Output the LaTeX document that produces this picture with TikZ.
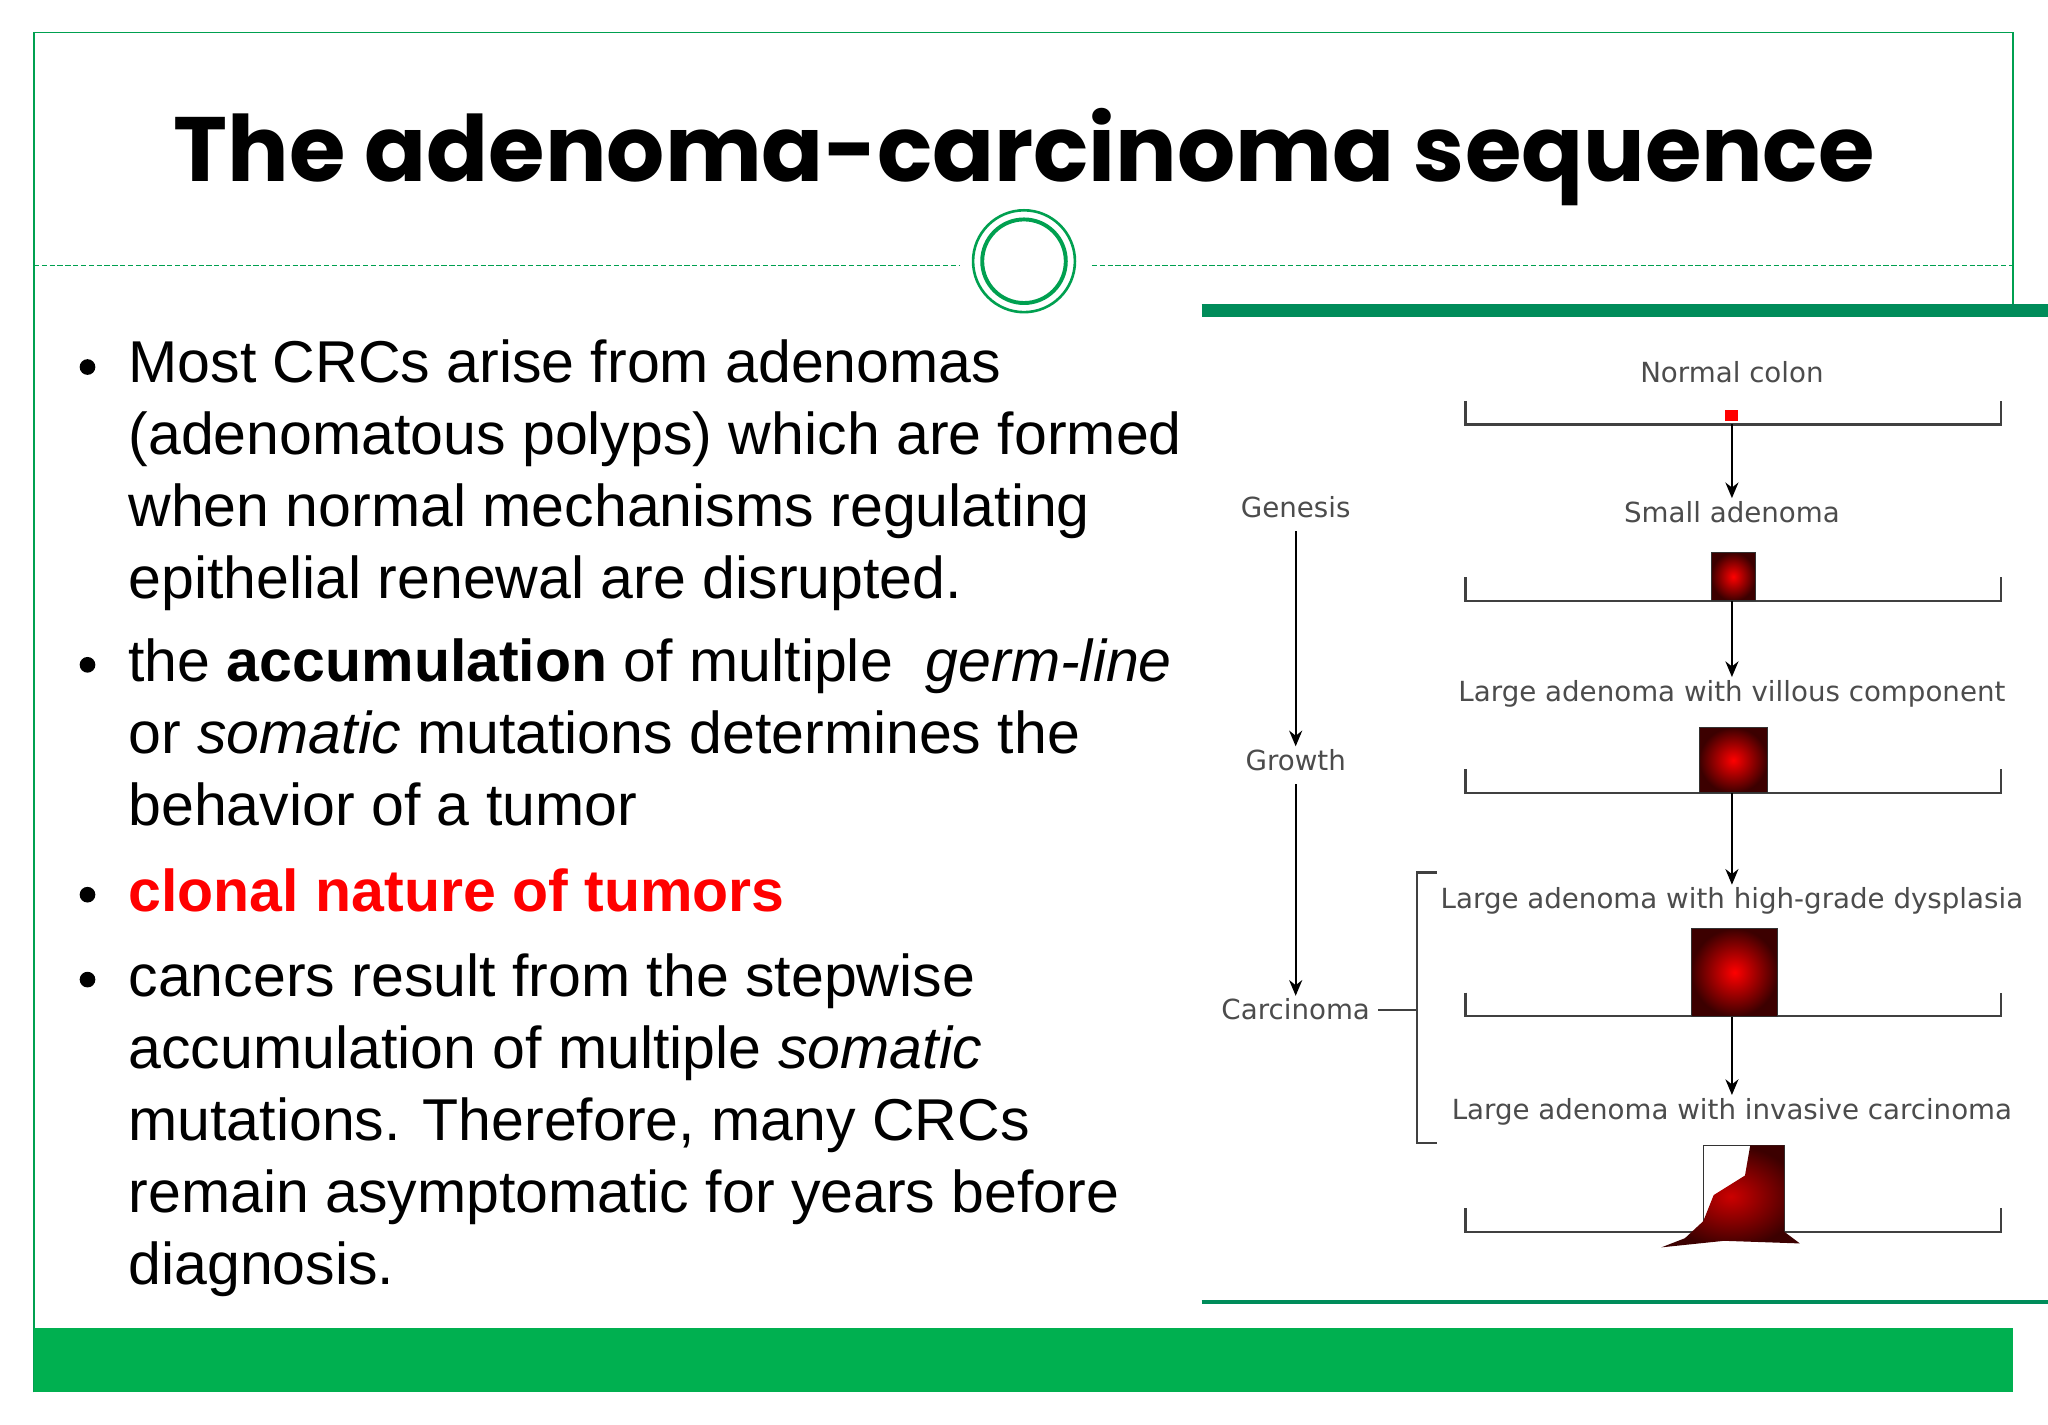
\documentclass[tikz,border=0pt]{standalone}
\usepackage{fontspec}
\setmainfont{Liberation Sans}
\newfontfamily\titlefont{Poppins}
\newfontfamily\diafont{DejaVu Sans}
\definecolor{fgreen}{RGB}{0,160,80}
\definecolor{bargreen}{RGB}{0,176,80}
\definecolor{tealg}{RGB}{0,140,90}
\definecolor{dred}{RGB}{60,0,0}
\tikzset{
  body/.style={anchor=north west,align=left,font=\fontsize{22.6}{27.5}\selectfont,inner sep=0},
  dlab/.style={font=\diafont\fontsize{10.6}{12}\selectfont,text=black!70,inner sep=1pt},
  lvl/.style={black!75,line width=0.8pt},
  arr/.style={-{Stealth[length=6pt,width=5pt]},black,line width=0.8pt},
  sq/.style={inner color=red,outer color=dred,draw=black!80}
}
\usetikzlibrary{arrows.meta}
\begin{document}
\begin{tikzpicture}[x=0.5pt,y=-0.5pt]
\useasboundingbox (0,0) rectangle (1568,1091);
\fill[white] (0,0) rectangle (1568,1091);
\draw[fgreen,line width=0.6pt] (26,1066) -- (26,25) -- (1541,25) -- (1541,240);
\fill[bargreen] (26,1017) rectangle (1541,1066);
\node[font=\titlefont\bfseries\fontsize{35}{40}\selectfont] (title) at (784,120) {The adenoma-carcinoma sequence};
\draw[fgreen,dashed,line width=0.4pt,dash pattern=on 2pt off 1pt] (26,203) -- (735,203);
\draw[fgreen,dashed,line width=0.4pt,dash pattern=on 2pt off 1pt] (836,203) -- (1541,203);
\node[circle,draw=fgreen,line width=1pt,minimum size=39pt] (c1) at (784,200) {};
\node[circle,draw=fgreen,line width=1.5pt,minimum size=32pt] (c2) at (784,200) {};
% bullets
\foreach \y in {281,509,685,750} \fill (67,\y) circle (6);
\node[body] (b1) at (98,260) {Most CRCs arise from adenomas\\(adenomatous polyps) which are formed\\when normal mechanisms regulating\\epithelial renewal are disrupted.};
\node[body] (b2) at (98,489) {the \textbf{accumulation} of multiple \ \textit{germ-line}\\or \textit{somatic} mutations determines the\\behavior of a tumor};
\node[body,text=red] (b3) at (98,665) {\textbf{clonal nature of tumors}};
\node[body] (b4) at (98,730) {cancers result from the stepwise\\accumulation of multiple \textit{somatic}\\mutations. Therefore, many CRCs\\remain asymptomatic for years before\\diagnosis.};
% panel
\draw[tealg,line width=5pt] (920,238) -- (1568,238);
\draw[tealg,line width=1.5pt] (920,997) -- (1568,997);
\foreach \y in {325,460,607,778,943}
  \draw[lvl] (1122,\y-18) -- (1122,\y) -- (1532,\y) -- (1532,\y-18);
\node[dlab] (l1) at (1326,285) {Normal colon};
\node[dlab] (l2) at (1326,392) {Small adenoma};
\node[dlab] (l3) at (1326,531) {Large adenoma with villous component};
\node[dlab] (l4) at (1326,690) {Large adenoma with high-grade dysplasia};
\node[dlab] (l5) at (1326,851) {Large adenoma with invasive carcinoma};
\coordinate (p1) at (1326,325);\coordinate (p2) at (1326,460);
\coordinate (p3) at (1326,607);\coordinate (p4) at (1326,778);
\draw[arr] (p1) -- (l2.north);
\draw[arr] (p2) -- (l3.north);
\draw[arr] (p3) -- (l4.north);
\draw[arr] (p4) -- (l5.north);
\fill[red] (1321,314) rectangle (1331,322);
\shade[sq] (1310,423) rectangle (1344,460);
\shade[sq] (1301,557) rectangle (1353,607);
\shade[sq] (1295,711) rectangle (1361,778);
\fill[white] (1304,877) rectangle (1366,943);
\draw[black!80] (1304,877) rectangle (1366,943);
\shade[inner color=red!80!black,outer color=dred] (1366,877) -- (1340,877) -- (1336,900) -- (1312,915) -- (1304,935) -- (1290,948) -- (1272,955) -- (1320,950) -- (1378,952) -- (1366,943) -- cycle;
\node[dlab] (g1) at (992,388) {Genesis};
\node[dlab] (g2) at (992,582) {Growth};
\node[dlab] (g3) at (992,773) {Carcinoma};
\draw[arr] (g1.south) ++(0,8) -- (g2.north);
\draw[arr] (g2.south) ++(0,8) -- (g3.north);
\coordinate (bk) at (1085,773);
\draw[black!75,line width=0.8pt] (g3.east) ++(4,0) -- (bk);
\draw[black!75,line width=0.8pt] (1100,668) -- (1085,668) -- (1085,875) -- (1100,875);
\end{tikzpicture}
\end{document}
